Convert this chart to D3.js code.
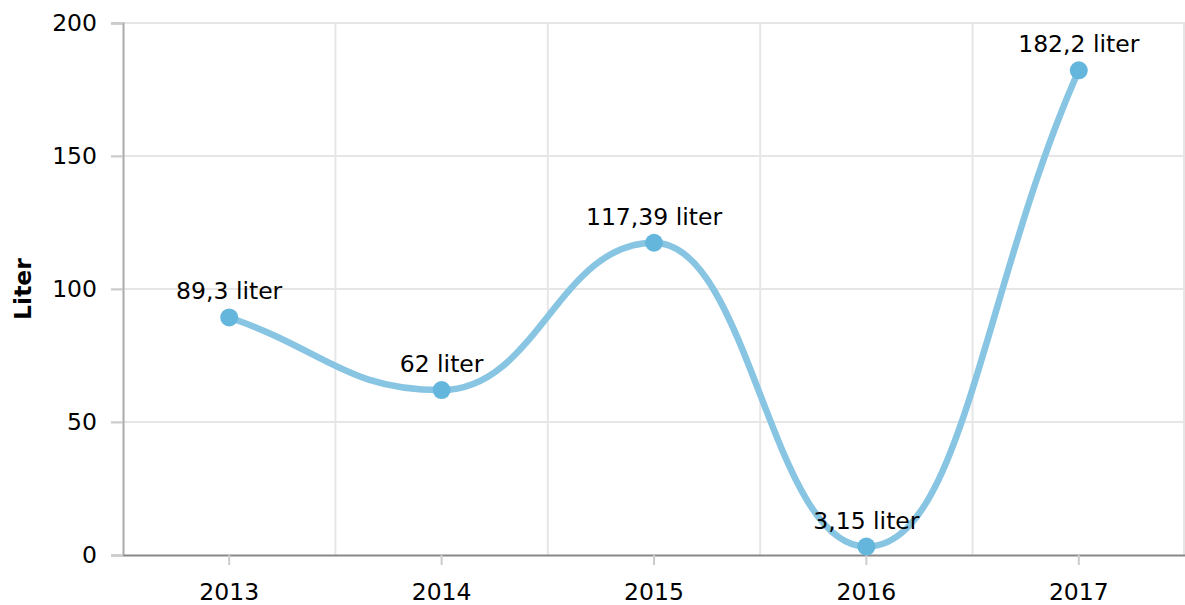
<!DOCTYPE html>
<html>
<head>
<meta charset="utf-8">
<script src="https://cdn.jsdelivr.net/npm/d3@7"></script>
<style>
  html, body { margin: 0; padding: 0; background: #fff; }
  svg { display: block; font-family: "DejaVu Sans", Verdana, sans-serif; }
</style>
</head>
<body>
<svg id="chart" width="1185" height="605"></svg>
<script>
const categories = ["2013", "2014", "2015", "2016", "2017"];
const values = [89.3, 62, 117.39, 3.15, 182.2];
const valueLabels = ["89,3 liter", "62 liter", "117,39 liter", "3,15 liter", "182,2 liter"];
const yTicks = [0, 50, 100, 150, 200];
const yTitle = "Liter";

const svg = d3.select("#chart");
const W = 1185, H = 605;
const m = { left: 123, right: 0, top: 23, bottom: 50 };
const x = d3.scaleBand().domain(categories).range([m.left, W - m.right]);
const y = d3.scaleLinear().domain([0, 200]).range([H - m.bottom, m.top]);
const fs = 23.5;
const ff = "DejaVu Sans, Verdana, sans-serif";

// horizontal gridlines
svg.append("g").selectAll("line").data(yTicks.filter(d => d > 0)).join("line")
  .attr("x1", m.left - 12).attr("x2", W).attr("y1", d => y(d)).attr("y2", d => y(d))
  .attr("stroke", "#e6e6e6").attr("stroke-width", 2);

// vertical gridlines at band boundaries
const bounds = categories.slice(1).map(c => x(c)).concat([W - 1]);
svg.append("g").selectAll("line").data(bounds).join("line")
  .attr("x1", d => d).attr("x2", d => d).attr("y1", y(200)).attr("y2", y(0))
  .attr("stroke", "#e6e6e6").attr("stroke-width", 2);

// y axis
const yAxis = svg.append("g").attr("transform", `translate(${m.left},0)`)
  .call(d3.axisLeft(y).tickValues(yTicks).tickSize(12).tickPadding(14));
yAxis.select(".domain").attr("stroke", "#aaa").attr("stroke-width", 2);
yAxis.selectAll(".tick line").attr("stroke", "#ccc").attr("stroke-width", 2);
yAxis.selectAll("text").attr("font-size", fs).attr("fill", "#000").attr("font-family", ff);

// x axis
const xAxis = svg.append("g").attr("transform", `translate(0,${y(0)})`)
  .call(d3.axisBottom(x).tickSize(10).tickPadding(18).tickSizeOuter(0));
xAxis.select(".domain").attr("stroke", "#888").attr("stroke-width", 2);
xAxis.selectAll(".tick line").attr("stroke", "#ccc").attr("stroke-width", 2);
xAxis.selectAll("text").attr("font-size", fs).attr("fill", "#000").attr("font-family", ff);

// y title
svg.append("text")
  .attr("transform", `translate(31,${(y(0) + y(200)) / 2}) rotate(-90)`)
  .attr("text-anchor", "middle").attr("font-weight", "bold").attr("font-size", fs)
  .attr("fill", "#000").text(yTitle);

// smooth line: cubic Hermite, flat at local extrema, chord slope at ends
const cx = c => x(c) + x.bandwidth() / 2;
const data = categories.map((c, i) => ({ c, v: values[i], label: valueLabels[i] }));
function smoothPath(P) {
  const n = P.length, k = 0.45, dK = [], mK = [];
  for (let i = 0; i < n - 1; i++) dK[i] = (P[i + 1][1] - P[i][1]) / (P[i + 1][0] - P[i][0]);
  for (let i = 0; i < n; i++) {
    if (i === 0) mK[i] = dK[0];
    else if (i === n - 1) mK[i] = dK[n - 2];
    else mK[i] = (Math.sign(dK[i - 1]) !== Math.sign(dK[i])) ? 0 : (dK[i - 1] + dK[i]) / 2;
  }
  const p = d3.path();
  p.moveTo(P[0][0], P[0][1]);
  for (let i = 1; i < n; i++) {
    const a = (P[i][0] - P[i - 1][0]) * k;
    p.bezierCurveTo(P[i - 1][0] + a, P[i - 1][1] + a * mK[i - 1],
                    P[i][0] - a, P[i][1] - a * mK[i], P[i][0], P[i][1]);
  }
  return p.toString();
}
svg.append("path")
  .attr("d", smoothPath(data.map(d => [cx(d.c), y(d.v)])))
  .attr("fill", "none").attr("stroke", "#88c5e3").attr("stroke-width", 6.5)
  .attr("stroke-linecap", "round");

// points
svg.append("g").selectAll("circle").data(data).join("circle")
  .attr("cx", d => cx(d.c)).attr("cy", d => y(d.v)).attr("r", 9)
  .attr("fill", "#65b6dd");

// labels
svg.append("g").selectAll("text").data(data).join("text")
  .attr("x", d => cx(d.c)).attr("y", d => y(d.v) - 18)
  .attr("text-anchor", "middle").attr("font-size", fs).attr("fill", "#000")
  .attr("font-family", ff)
  .text(d => d.label);
</script>
</body>
</html>
